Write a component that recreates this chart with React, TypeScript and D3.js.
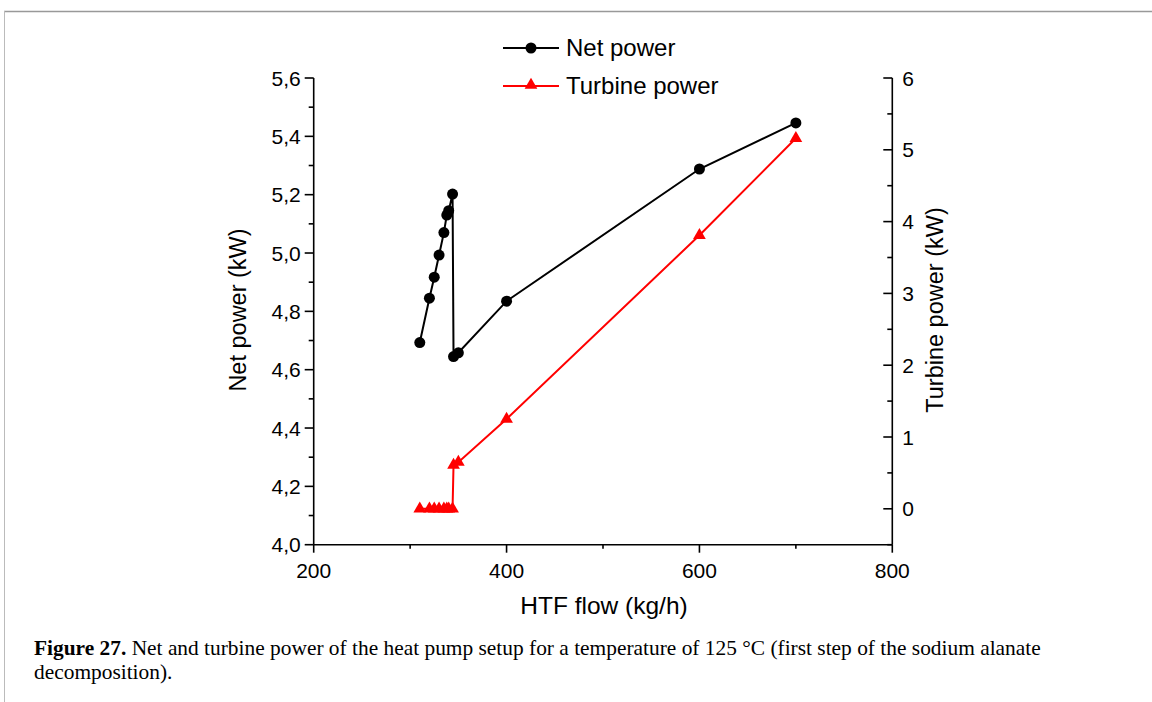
import React from "react";
import * as d3 from "d3";

const flow = [310, 320, 325, 330, 335, 338, 340, 344, 345, 350, 400, 600, 700];
const netPower = [4.693, 4.845, 4.917, 4.993, 5.07, 5.13, 5.145, 5.202, 4.645, 4.658, 4.835, 5.288, 5.446];
const turbinePower = [0, 0, 0, 0, 0, 0, 0, 0, 0.61, 0.65, 1.25, 3.81, 5.16];
const xTicks = [200, 400, 600, 800];
const xMinor = [300, 500, 700];
const leftTicks = [4.0, 4.2, 4.4, 4.6, 4.8, 5.0, 5.2, 5.4, 5.6];
const leftMinor = [4.1, 4.3, 4.5, 4.7, 4.9, 5.1, 5.3, 5.5];
const rightTicks = [0, 1, 2, 3, 4, 5, 6];
const rightMinor = [-0.5, 0.5, 1.5, 2.5, 3.5, 4.5, 5.5];

const FONT = "'Liberation Sans', Arial, sans-serif";

export default function App() {
  const left = 313.7, right = 892.3, top = 78, bottom = 544.7;
  const x = d3.scaleLinear().domain([200, 800]).range([left, right]);
  const yL = d3.scaleLinear().domain([4.0, 5.6]).range([bottom, top]);
  const yR = d3.scaleLinear().domain([-0.5, 6]).range([bottom, top]);
  const netLine = d3.line<number>().x((d, i) => x(flow[i])).y((d) => yL(d))(netPower) || "";
  const turbLine = d3.line<number>().x((d, i) => x(flow[i])).y((d) => yR(d))(turbinePower) || "";
  const tri = d3.symbol().type(d3.symbolTriangle).size(70)() || "";
  const fmt = (v: number) => v.toFixed(1).replace(".", ",");

  return (
    <svg width={1152} height={702} style={{ position: "absolute", left: 0, top: 0, background: "#fff" }}>
      {/* frame */}
      <line x1={4} y1={11.5} x2={1152} y2={11.5} stroke="#999" strokeWidth={1.5} />
      <line x1={4.5} y1={11} x2={4.5} y2={702} stroke="#bbb" strokeWidth={1} />

      {/* axes */}
      <g stroke="#000" strokeWidth={1.6} fill="none">
        <line x1={left} y1={top} x2={left} y2={bottom} />
        <line x1={right} y1={top} x2={right} y2={bottom} />
        <line x1={left} y1={bottom} x2={right} y2={bottom} />
        {xTicks.map((t) => (
          <line key={"xt" + t} x1={x(t)} x2={x(t)} y1={bottom} y2={bottom + 8} />
        ))}
        {xMinor.map((t) => (
          <line key={"xm" + t} x1={x(t)} x2={x(t)} y1={bottom} y2={bottom + 4} />
        ))}
        {leftTicks.map((t) => (
          <line key={"lt" + t} x1={left - 9} x2={left} y1={yL(t)} y2={yL(t)} />
        ))}
        {leftMinor.map((t) => (
          <line key={"lm" + t} x1={left - 5} x2={left} y1={yL(t)} y2={yL(t)} />
        ))}
        {rightTicks.map((t) => (
          <line key={"rt" + t} x1={right - 9} x2={right} y1={yR(t)} y2={yR(t)} />
        ))}
        {rightMinor.map((t) => (
          <line key={"rm" + t} x1={right - 5} x2={right} y1={yR(t)} y2={yR(t)} />
        ))}
      </g>

      <g fontFamily={FONT} fontSize={21} fill="#000">
        {xTicks.map((t) => (
          <text key={"xl" + t} x={x(t)} y={bottom + 33} textAnchor="middle">{t}</text>
        ))}
        {leftTicks.map((t) => (
          <text key={"ll" + t} x={left - 13} y={yL(t) + 7.5} textAnchor="end">{fmt(t)}</text>
        ))}
        {rightTicks.map((t) => (
          <text key={"rl" + t} x={right + 10} y={yR(t) + 7.5} textAnchor="start">{t}</text>
        ))}
      </g>

      <g fontFamily={FONT} fontSize={23.5} fill="#000">
        <text x={604} y={614} textAnchor="middle" fontSize={24.5}>HTF flow (kg/h)</text>
        <text transform={`translate(246,310) rotate(-90)`} textAnchor="middle">Net power (kW)</text>
        <text transform={`translate(943,310) rotate(-90)`} textAnchor="middle">Turbine power (kW)</text>
      </g>

      {/* series */}
      <path d={turbLine} fill="none" stroke="#ff0000" strokeWidth={2} />
      {turbinePower.map((v, i) => (
        <path key={"tm" + i} d={tri} transform={`translate(${x(flow[i])},${yR(v)})`} fill="#ff0000" />
      ))}
      <path d={netLine} fill="none" stroke="#000" strokeWidth={2} />
      {netPower.map((v, i) => (
        <circle key={"nm" + i} cx={x(flow[i])} cy={yL(v)} r={5.5} fill="#000" />
      ))}

      {/* legend */}
      <g fontFamily={FONT} fontSize={24} fill="#000">
        <line x1={503} x2={559} y1={48} y2={48} stroke="#000" strokeWidth={2} />
        <circle cx={531} cy={48} r={5.5} fill="#000" />
        <text x={566} y={56}>Net power</text>
        <line x1={503} x2={559} y1={86} y2={86} stroke="#ff0000" strokeWidth={2} />
        <path d={tri} transform="translate(531,85)" fill="#ff0000" />
        <text x={566} y={94}>Turbine power</text>
      </g>

      {/* caption */}
      <g fontFamily="'Liberation Serif', 'Times New Roman', serif" fontSize={21.4} fill="#000">
        <text x={34} y={655}>
          <tspan fontWeight="bold">Figure 27.</tspan>
          <tspan> Net and turbine power of the heat pump setup for a temperature of 125 °C (first step of the sodium alanate</tspan>
        </text>
        <text x={34} y={679}>decomposition).</text>
      </g>
    </svg>
  );
}
